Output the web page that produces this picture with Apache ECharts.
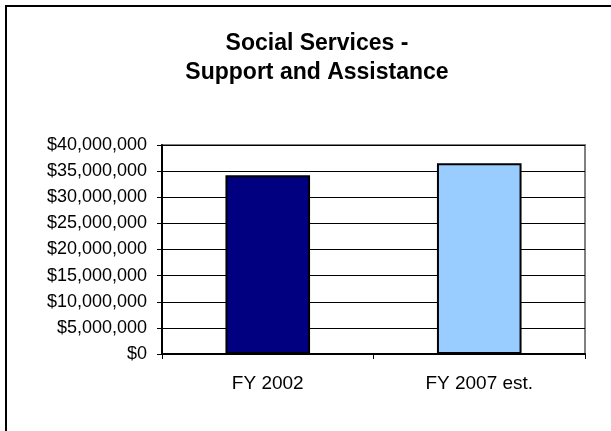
<!DOCTYPE html>
<html>
<head>
<meta charset="utf-8">
<script src="https://cdn.jsdelivr.net/npm/echarts@6/dist/echarts.min.js"></script>
<style>
html,body{margin:0;padding:0;background:#fff;}
#chart{width:611px;height:431px;}
</style>
</head>
<body>
<div id="chart"></div>
<script>
var categories = ['FY 2002', 'FY 2007 est.'];
var values = [34200000, 36500000];
var barColors = ['#000080', '#99CCFF'];
var titleText = 'Social Services -\nSupport and Assistance';

var chart = echarts.init(document.getElementById('chart'), null, {renderer: 'canvas'});

function fmt(v) {
  return '$' + String(v).replace(/\B(?=(\d{3})+(?!\d))/g, ',');
}

var option = {
  animation: false,
  backgroundColor: '#ffffff',
  title: {
    text: titleText,
    left: 312,
    top: 24,
    textAlign: 'center',
    textStyle: {
      fontFamily: 'Liberation Sans, Arial, sans-serif',
      fontWeight: 'bold',
      fontSize: 23,
      lineHeight: 29,
      color: '#000'
    }
  },
  graphic: [{
    type: 'rect',
    silent: true,
    shape: {x: 6, y: 6, width: 800, height: 600},
    style: {fill: 'none', stroke: '#000', lineWidth: 2}
  }],
  grid: {
    left: 162,
    right: 26,
    top: 145,
    bottom: 77,
    show: true,
    borderColor: '#808080',
    borderWidth: 2,
    backgroundColor: 'transparent'
  },
  xAxis: {
    type: 'category',
    data: categories,
    axisLine: {show: true, lineStyle: {color: '#000', width: 2}},
    axisTick: {show: true, alignWithLabel: false, length: 5, lineStyle: {color: '#000', width: 1}},
    axisLabel: {
      margin: 20,
      fontFamily: 'Liberation Sans, Arial, sans-serif',
      fontSize: 19,
      color: '#000'
    }
  },
  yAxis: {
    type: 'value',
    min: 0,
    max: 40000000,
    interval: 5000000,
    axisLine: {show: true, lineStyle: {color: '#000', width: 2}},
    axisTick: {show: true, length: 5, lineStyle: {color: '#000', width: 1}},
    splitLine: {show: true, lineStyle: {color: '#000', width: 1}},
    axisLabel: {
      margin: 15,
      formatter: fmt,
      fontFamily: 'Liberation Sans, Arial, sans-serif',
      fontSize: 18,
      color: '#000'
    }
  },
  series: [{
    type: 'bar',
    barWidth: '40%',
    data: values.map(function (v, i) {
      return {value: v, itemStyle: {color: barColors[i]}};
    }),
    itemStyle: {borderColor: '#000', borderWidth: 2}
  }]
};
chart.setOption(option);
</script>
</body>
</html>
